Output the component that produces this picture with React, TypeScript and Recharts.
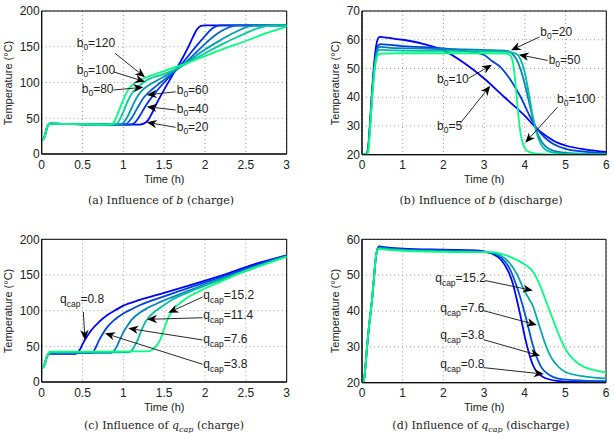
import React from 'react';
import {
  LineChart,
  Line,
  XAxis,
  YAxis,
  CartesianGrid,
  ReferenceLine,
  ReferenceDot,
  ReferenceArea,
} from 'recharts';

type Pair = [number, number];

// ---------- (a) Influence of b (charge) ----------
const chargeStartA: Pair[] = [[0, 20], [0.02, 21], [0.04, 26], [0.06, 35], [0.08, 40.5], [0.1, 42.5], [0.15, 42.5], [0.3, 42], [0.6, 41.5]];
const aB20: Pair[] = [[1.0, 41], [1.2, 41.2], [1.25, 42.5], [1.3, 47], [1.35, 57], [1.4, 69], [1.5, 90], [1.6, 110], [1.7, 129], [1.8, 151], [1.85, 163], [1.9, 174], [1.95, 179.3], [2.0, 180], [3, 180]];
const aB40: Pair[] = [[1.0, 41], [1.1, 41.5], [1.15, 45], [1.2, 53], [1.25, 63], [1.3, 72], [1.4, 87], [1.5, 100], [1.6, 112], [1.7, 124], [1.8, 138], [1.9, 152], [2.0, 165], [2.05, 171.5], [2.1, 176.5], [2.15, 179.3], [2.2, 180], [3, 180]];
const aB60: Pair[] = [[0.95, 41], [1.03, 42], [1.1, 50], [1.15, 60], [1.2, 70], [1.25, 79], [1.3, 85], [1.4, 95], [1.5, 104], [1.6, 113], [1.7, 122], [1.8, 132], [1.9, 143], [2.0, 154], [2.1, 164], [2.2, 172], [2.3, 177.5], [2.4, 179.8], [2.5, 180], [3, 180]];
const aB80: Pair[] = [[0.9, 41], [0.98, 42], [1.05, 52], [1.1, 64], [1.15, 76], [1.2, 85], [1.25, 91], [1.3, 95.5], [1.4, 102], [1.5, 108.5], [1.6, 115], [1.7, 122], [1.8, 130], [2.0, 146], [2.2, 160], [2.3, 166.5], [2.4, 172], [2.5, 177], [2.6, 179.5], [2.7, 180], [3, 180]];
const aB100: Pair[] = [[0.85, 41], [0.92, 42.5], [0.95, 47], [1.0, 59], [1.05, 73], [1.1, 84], [1.2, 96], [1.25, 100.5], [1.3, 104], [1.5, 112], [1.7, 122], [1.8, 128], [2.0, 141], [2.2, 153], [2.4, 164], [2.5, 169], [2.6, 174], [2.7, 177.5], [2.8, 179.5], [2.9, 180], [3, 180]];
const aB120: Pair[] = [[0.8, 41], [0.87, 42.5], [0.9, 48], [0.95, 62], [1.0, 76], [1.05, 88], [1.1, 95.5], [1.2, 103], [1.3, 108], [1.5, 116], [1.75, 126], [2.0, 137], [2.25, 148], [2.5, 158], [2.75, 169], [3.0, 178]];

// ---------- (b) Influence of b (discharge) ----------
const dischargeStartB: Pair[] = [[0, 20], [0.1, 20]];
const bB5: Pair[] = [[0.15, 22.5], [0.2, 32], [0.25, 43], [0.3, 52], [0.35, 58], [0.4, 60.6], [0.45, 61], [0.6, 60.7], [1.0, 60], [1.5, 58.6], [2.0, 56.3], [2.5, 52], [3.0, 46.5], [3.5, 40], [3.8, 36.2], [4.0, 33.5], [4.3, 29], [4.5, 26.8], [4.8, 24.2], [5.0, 23.2], [5.5, 21.8], [6, 21]];
const bB10: Pair[] = [[0.15, 22], [0.2, 31], [0.25, 42], [0.3, 50], [0.35, 55.5], [0.4, 58], [0.45, 58.5], [0.7, 58.2], [1.0, 57.8], [2.0, 57], [2.5, 56.2], [3.0, 54.7], [3.2, 52.5], [3.4, 50.5], [3.6, 47], [3.8, 42.5], [3.9, 40], [4.1, 34], [4.3, 29], [4.5, 25.8], [4.7, 23.7], [5.0, 22], [5.5, 21], [6, 20.6]];
const bB20: Pair[] = [[0.15, 22], [0.2, 30.5], [0.25, 41], [0.3, 49.5], [0.35, 55], [0.4, 57.2], [0.45, 57.5], [0.7, 57.2], [1.5, 56.9], [2.5, 56.6], [3.3, 56.3], [3.6, 56], [3.7, 55], [3.8, 53], [3.9, 49.5], [4.0, 44.5], [4.1, 38.5], [4.2, 32.5], [4.3, 27.8], [4.4, 24.8], [4.5, 23], [4.7, 21.4], [5.0, 20.6], [5.5, 20.3], [6, 20.2]];
const bB50: Pair[] = [[0.15, 21.5], [0.2, 30], [0.25, 40.5], [0.3, 49], [0.35, 54], [0.4, 56.2], [0.45, 56.5], [0.8, 56.3], [2.0, 56.1], [3.0, 56], [3.6, 55.8], [3.8, 55], [3.9, 53], [4.0, 48.5], [4.1, 41], [4.2, 33], [4.3, 27], [4.4, 23.5], [4.5, 21.8], [4.7, 20.7], [5.0, 20.3], [6, 20.1]];
const bB100: Pair[] = [[0.15, 21], [0.2, 29], [0.25, 39.5], [0.3, 48], [0.35, 53], [0.4, 54.8], [0.5, 55.2], [1.0, 55.3], [2.0, 55.3], [3.0, 55.3], [3.55, 55.2], [3.65, 54.5], [3.7, 52.5], [3.75, 47.5], [3.8, 40], [3.85, 32.5], [3.9, 27], [3.95, 24], [4.0, 22.3], [4.1, 21], [4.3, 20.3], [5, 20], [6, 20]];

// ---------- (c) Influence of q_cap (charge) ----------
const chargeStartC: Pair[] = [[0, 20], [0.02, 21], [0.04, 26], [0.06, 34], [0.08, 39]];
const cQ08: Pair[] = [[0.1, 39.5], [0.4, 39.5], [0.43, 40.5], [0.47, 46], [0.5, 53], [0.55, 63], [0.6, 71.5], [0.7, 84], [0.8, 93.5], [0.9, 100.5], [1.0, 107], [1.2, 115], [1.5, 125], [1.8, 135], [2.0, 142], [2.3, 153], [2.6, 165], [2.8, 171.5], [3.0, 177.5]];
const cQ38: Pair[] = [[0.1, 40.5], [0.6, 40.5], [0.63, 42], [0.66, 48], [0.7, 58], [0.75, 68], [0.8, 76.5], [0.9, 88], [1.0, 96], [1.1, 102], [1.2, 107.5], [1.5, 120], [1.8, 132], [2.0, 139.5], [2.3, 151], [2.6, 163], [2.8, 170.5], [3.0, 177]];
const cQ76: Pair[] = [[0.1, 41], [0.85, 41], [0.88, 43], [0.92, 50], [0.96, 60], [1.0, 70], [1.05, 79], [1.1, 87], [1.2, 97], [1.3, 104], [1.45, 112], [1.6, 119], [1.8, 128], [2.0, 137], [2.3, 149], [2.6, 161], [2.8, 169.5], [3.0, 176.5]];
const cQ114: Pair[] = [[0.1, 41.5], [1.06, 41.5], [1.1, 44], [1.14, 51], [1.18, 60], [1.22, 72], [1.26, 82], [1.3, 89], [1.4, 100], [1.5, 108], [1.6, 115.5], [1.8, 126], [2.0, 135], [2.3, 147.5], [2.6, 159.5], [2.8, 168], [3.0, 176]];
const cQ152: Pair[] = [[0.1, 42.5], [0.5, 42.5], [1.3, 43], [1.35, 45], [1.4, 50], [1.45, 59], [1.5, 75], [1.55, 90], [1.6, 100], [1.7, 111], [1.8, 119.5], [1.9, 125.5], [2.0, 131], [2.2, 141], [2.5, 156], [2.75, 166], [3.0, 175.5]];

// ---------- (d) Influence of q_cap (discharge) ----------
const dischargeStartD: Pair[] = [[0, 20], [0.04, 20.3], [0.08, 24], [0.12, 29.5], [0.18, 36.5], [0.25, 43.5], [0.3, 50], [0.33, 54], [0.37, 56.8]];
const dQ08: Pair[] = [[0.42, 58], [0.5, 57.9], [1.0, 57.4], [2.0, 57.1], [2.8, 56.9], [3.0, 56.6], [3.2, 56], [3.4, 54.5], [3.6, 51], [3.7, 48], [3.8, 43.5], [3.9, 38.5], [4.0, 33], [4.1, 28.5], [4.2, 25], [4.3, 23], [4.4, 22], [4.5, 21.3], [4.8, 20.5], [5.2, 20.2], [6, 20.1]];
const dQ38: Pair[] = [[0.42, 57.8], [0.5, 57.7], [1.0, 57.2], [2.0, 56.9], [2.8, 56.7], [3.0, 56.5], [3.2, 56.2], [3.4, 55], [3.6, 52.5], [3.8, 47], [3.9, 43.5], [4.0, 39.5], [4.1, 35], [4.2, 30.5], [4.3, 27], [4.4, 24.5], [4.6, 22.2], [4.8, 21.2], [5.2, 20.7], [6, 20.4]];
const dQ76: Pair[] = [[0.42, 57.6], [0.5, 57.5], [1.0, 57], [2.0, 56.7], [2.8, 56.5], [3.0, 56.4], [3.2, 56.3], [3.4, 55.5], [3.6, 53.8], [3.8, 50.5], [4.0, 45.5], [4.1, 43.5], [4.2, 41.5], [4.3, 38], [4.4, 34.5], [4.5, 31], [4.6, 28.2], [4.7, 26.2], [4.8, 24.8], [5.0, 23], [5.5, 21.7], [6, 21.2]];
const dQ152: Pair[] = [[0.42, 57.3], [0.5, 57.2], [1.0, 56.8], [2.0, 56.5], [2.8, 56.4], [3.0, 56.4], [3.2, 56.4], [3.4, 56], [3.6, 55.3], [3.8, 54.3], [4.0, 53], [4.2, 51], [4.4, 46.5], [4.5, 43.5], [4.6, 40.5], [4.7, 37.5], [4.8, 34.5], [4.9, 31.8], [5.0, 29.5], [5.1, 27.7], [5.3, 25.5], [5.5, 24.2], [5.8, 23.3], [6, 22.8]];

// ---------- axes ----------
const xTicksCharge = [0, 0.5, 1, 1.5, 2, 2.5, 3];
const xTicksDischarge = [0, 1, 2, 3, 4, 5, 6];
const yTicksA = [0, 50, 100, 150, 200];
const yTicksB = [20, 30, 40, 50, 60, 70];
const yTicksC = [0, 50, 100, 150, 200];
const yTicksD = [20, 30, 40, 50, 60];

// ---------- annotations: [main, subscript, rest], text anchor, arrow tail, arrow tip ----------
type Note = { main: string; sub: string; rest: string; at: Pair; tail: Pair; tip: Pair };
const notesA: Note[] = [
  { main: 'b', sub: '0', rest: '=120', at: [0.4286, 150.1], tail: [0.898, 140.8], tip: [1.265, 107.3] },
  { main: 'b', sub: '0', rest: '=100', at: [0.4286, 111.9], tail: [0.877, 115], tip: [1.265, 101] },
  { main: 'b', sub: '0', rest: '=80', at: [0.49, 84.9], tail: [0.877, 89.5], tip: [1.245, 93.3] },
  { main: 'b', sub: '0', rest: '=60', at: [1.653, 83.9], tail: [1.64, 87], tip: [1.286, 82.5] },
  { main: 'b', sub: '0', rest: '=40', at: [1.653, 57.8], tail: [1.64, 61.5], tip: [1.286, 66.2] },
  { main: 'b', sub: '0', rest: '=20', at: [1.653, 32.2], tail: [1.64, 37.3], tip: [1.286, 44.3] },
];
const notesB: Note[] = [
  { main: 'b', sub: '0', rest: '=20', at: [4.38, 61.4], tail: [4.36, 61.0], tip: [3.66, 56.3] },
  { main: 'b', sub: '0', rest: '=50', at: [4.585, 51.5], tail: [4.56, 52.8], tip: [3.85, 54.8] },
  { main: 'b', sub: '0', rest: '=10', at: [1.842, 44.9], tail: [2.62, 46.6], tip: [3.19, 51.3] },
  { main: 'b', sub: '0', rest: '=5', at: [1.842, 28.6], tail: [2.41, 30.9], tip: [3.15, 44] },
  { main: 'b', sub: '0', rest: '=100', at: [4.79, 38.1], tail: [4.8, 36.5], tip: [4.01, 24.2] },
];
const notesC: Note[] = [
  { main: 'q', sub: 'cap', rest: '=0.8', at: [0.224, 110.3], tail: [0.51, 98.1], tip: [0.53, 58.9] },
  { main: 'q', sub: 'cap', rest: '=15.2', at: [1.979, 116.8], tail: [1.97, 119.1], tip: [1.55, 97] },
  { main: 'q', sub: 'cap', rest: '=11.4', at: [1.979, 87.9], tail: [1.97, 90.1], tip: [1.29, 87.8] },
  { main: 'q', sub: 'cap', rest: '=7.6', at: [1.979, 54.2], tail: [1.97, 58.9], tip: [1.06, 75.2] },
  { main: 'q', sub: 'cap', rest: '=3.8', at: [1.979, 20.1], tail: [1.97, 24.8], tip: [0.775, 68.2] },
];
const notesD: Note[] = [
  { main: 'q', sub: 'cap', rest: '=15.2', at: [1.8, 48.0], tail: [3.03, 48.5], tip: [4.2, 45.7] },
  { main: 'q', sub: 'cap', rest: '=7.6', at: [1.926, 39.6], tail: [2.99, 40.1], tip: [4.3, 36.1] },
  { main: 'q', sub: 'cap', rest: '=3.8', at: [1.926, 32.2], tail: [2.99, 32], tip: [4.38, 27.5] },
  { main: 'q', sub: 'cap', rest: '=0.8', at: [1.926, 24.2], tail: [2.99, 24.2], tip: [4.47, 22.4] },
];

// ---------- styles ----------
const SANS = '"Liberation Sans", Arial, Helvetica, sans-serif';
const SERIF = '"DejaVu Serif", "Liberation Serif", serif';
const winter = (i: number, n: number) =>
  `rgb(0, ${Math.round((255 * i) / (n - 1))}, ${Math.round(255 * (1 - (0.5 * i) / (n - 1)))})`;

const toPts = (pairs: Pair[]) => pairs.map(([t, T]) => ({ t, T }));

const Arrow = (p: any) => {
  const { x1, y1, x2, y2 } = p;
  const dx = x2 - x1;
  const dy = y2 - y1;
  const len = Math.hypot(dx, dy) || 1;
  const ux = dx / len;
  const uy = dy / len;
  const L = 10;
  const W = 4.2;
  const back = 3;
  const bx = x2 - ux * L;
  const by = y2 - uy * L;
  const nx = -uy;
  const ny = ux;
  const nX = x2 - ux * (L - back);
  const nY = y2 - uy * (L - back);
  const pts = `${x2},${y2} ${bx + nx * W},${by + ny * W} ${nX},${nY} ${bx - nx * W},${by - ny * W}`;
  return (
    <g>
      <line x1={x1} y1={y1} x2={nX} y2={nY} stroke="#111" strokeWidth={0.9} />
      <polygon points={pts} fill="#000" />
    </g>
  );
};

const NoteText = ({ cx, cy, note }: any) => (
  <text x={cx} y={cy} fontSize={12} fontFamily={SANS} fill="#222">
    <tspan>{note.main}</tspan>
    <tspan dy={note.sub === 'cap' ? 4 : 3} fontSize={8.5}>
      {note.sub}
    </tspan>
    <tspan dy={note.sub === 'cap' ? -4 : -3}>{note.rest}</tspan>
  </text>
);

type Series = { name: string; pts: Pair[] };
type Box = { l: number; t: number; r: number; b: number };

const CW = 307;
const CH = 200;
const XH = 20;

function Panel(props: {
  left: number;
  top: number;
  box: Box;
  xDomain: [number, number];
  xTicks: number[];
  yDomain: [number, number];
  yTicks: number[];
  series: Series[];
  notes: Note[];
}) {
  const { left, top, box, xDomain, xTicks, yDomain, yTicks, series, notes } = props;
  const tickStyle = { fill: '#222', fontSize: 12, fontFamily: SANS };
  return (
    <div style={{ position: 'absolute', left, top, width: CW, height: CH }}>
      <LineChart
        width={CW}
        height={CH}
        margin={{ top: box.t, right: CW - box.r, bottom: CH - box.b - XH, left: 0 }}
      >
        <CartesianGrid stroke="#9a9a9a" strokeDasharray="1 3" />
        <XAxis
          type="number"
          dataKey="t"
          domain={xDomain}
          ticks={xTicks}
          allowDataOverflow
          interval={0}
          tickLine={false}
          tickSize={0}
          tickMargin={6}
          height={XH}
          axisLine={{ stroke: '#000' }}
          tick={tickStyle}
        />
        <YAxis
          type="number"
          domain={yDomain}
          ticks={yTicks}
          allowDataOverflow
          interval={0}
          width={box.l}
          tickLine={false}
          tickSize={0}
          tickMargin={2}
          axisLine={{ stroke: '#000' }}
          tick={tickStyle}
        />
        <ReferenceArea
          x1={xDomain[0]}
          x2={xDomain[1]}
          y1={yDomain[0]}
          y2={yDomain[1]}
          fill="none"
          fillOpacity={0}
          stroke="#000"
          strokeWidth={1}
          ifOverflow="visible"
        />
        {series.map((s, i) => (
          <Line
            key={s.name}
            name={s.name}
            data={toPts(s.pts)}
            dataKey="T"
            type="monotone"
            stroke={winter(i, series.length)}
            strokeWidth={1.8}
            dot={false}
            activeDot={false}
            isAnimationActive={false}
          />
        ))}
        {notes.map((n, i) => (
          <ReferenceLine
            key={'arrow' + i}
            segment={[
              { x: n.tail[0], y: n.tail[1] },
              { x: n.tip[0], y: n.tip[1] },
            ]}
            ifOverflow="visible"
            shape={Arrow}
          />
        ))}
        {notes.map((n, i) => (
          <ReferenceDot
            key={'txt' + i}
            x={n.at[0]}
            y={n.at[1]}
            r={0}
            ifOverflow="visible"
            shape={(p: any) => <NoteText cx={p.cx} cy={p.cy} note={n} />}
          />
        ))}
      </LineChart>
    </div>
  );
}

const centered = (x: number, y: number, extra: React.CSSProperties = {}): React.CSSProperties => ({
  position: 'absolute',
  left: x,
  top: y,
  transform: 'translate(-50%, -50%)',
  whiteSpace: 'nowrap',
  lineHeight: 1,
  ...extra,
});

const axisLabelStyle = { fontFamily: SANS, fontSize: 11, color: '#222' };
const titleStyle = { fontFamily: SERIF, fontSize: 11, color: '#222' };

function YLabel({ x, y }: { x: number; y: number }) {
  return (
    <div style={centered(x, y, { ...axisLabelStyle, transform: 'translate(-50%, -50%) rotate(-90deg)' })}>
      Temperature (°C)
    </div>
  );
}

export default function App() {
  const seriesA: Series[] = [
    { name: 'b0=20', pts: chargeStartA.concat(aB20) },
    { name: 'b0=40', pts: chargeStartA.concat(aB40) },
    { name: 'b0=60', pts: chargeStartA.concat(aB60) },
    { name: 'b0=80', pts: chargeStartA.concat(aB80) },
    { name: 'b0=100', pts: chargeStartA.concat(aB100) },
    { name: 'b0=120', pts: chargeStartA.concat(aB120) },
  ];
  const seriesB: Series[] = [
    { name: 'b0=5', pts: dischargeStartB.concat(bB5) },
    { name: 'b0=10', pts: dischargeStartB.concat(bB10) },
    { name: 'b0=20', pts: dischargeStartB.concat(bB20) },
    { name: 'b0=50', pts: dischargeStartB.concat(bB50) },
    { name: 'b0=100', pts: dischargeStartB.concat(bB100) },
  ];
  const seriesC: Series[] = [
    { name: 'q0.8', pts: chargeStartC.concat(cQ08) },
    { name: 'q3.8', pts: chargeStartC.concat(cQ38) },
    { name: 'q7.6', pts: chargeStartC.concat(cQ76) },
    { name: 'q11.4', pts: chargeStartC.concat(cQ114) },
    { name: 'q15.2', pts: chargeStartC.concat(cQ152) },
  ];
  const seriesD: Series[] = [
    { name: 'q0.8', pts: dischargeStartD.concat(dQ08) },
    { name: 'q3.8', pts: dischargeStartD.concat(dQ38) },
    { name: 'q7.6', pts: dischargeStartD.concat(dQ76) },
    { name: 'q15.2', pts: dischargeStartD.concat(dQ152) },
  ];

  return (
    <div
      style={{
        position: 'absolute',
        left: 0,
        top: 0,
        width: 614,
        height: 433,
        background: '#fff',
        overflow: 'hidden',
      }}
    >
      <Panel left={0} top={0} box={{ l: 41.7, t: 11, r: 286.7, b: 154 }} xDomain={[0, 3]} xTicks={xTicksCharge} yDomain={[0, 200]} yTicks={yTicksA} series={seriesA} notes={notesA} />
      <Panel left={307} top={0} box={{ l: 55, t: 11, r: 299.3, b: 154.7 }} xDomain={[0, 6]} xTicks={xTicksDischarge} yDomain={[20, 70]} yTicks={yTicksB} series={seriesB} notes={notesB} />
      <Panel left={0} top={216} box={{ l: 41.7, t: 23.3, r: 286.7, b: 166 }} xDomain={[0, 3]} xTicks={xTicksCharge} yDomain={[0, 200]} yTicks={yTicksC} series={seriesC} notes={notesC} />
      <Panel left={307} top={216} box={{ l: 55, t: 23.3, r: 299, b: 166.7 }} xDomain={[0, 6]} xTicks={xTicksDischarge} yDomain={[20, 60]} yTicks={yTicksD} series={seriesD} notes={notesD} />

      <YLabel x={8.3} y={82.5} />
      <YLabel x={335.3} y={82.8} />
      <YLabel x={8.3} y={310.7} />
      <YLabel x={335.3} y={311} />

      <div style={centered(164.2, 178.7, axisLabelStyle)}>Time (h)</div>
      <div style={centered(484.2, 178.7, axisLabelStyle)}>Time (h)</div>
      <div style={centered(164.2, 406.7, axisLabelStyle)}>Time (h)</div>
      <div style={centered(484.2, 406.7, axisLabelStyle)}>Time (h)</div>

      <div style={centered(161, 199.5, titleStyle)}>
        (a) Influence of <i>b</i> (charge)
      </div>
      <div style={centered(481, 199.5, titleStyle)}>
        (b) Influence of <i>b</i> (discharge)
      </div>
      <div style={centered(164, 427, titleStyle)}>
        (c) Influence of <i>q</i>
        <sub style={{ fontSize: 8, fontStyle: 'italic' }}>cap</sub> (charge)
      </div>
      <div style={centered(481, 427, titleStyle)}>
        (d) Influence of <i>q</i>
        <sub style={{ fontSize: 8, fontStyle: 'italic' }}>cap</sub> (discharge)
      </div>
    </div>
  );
}
